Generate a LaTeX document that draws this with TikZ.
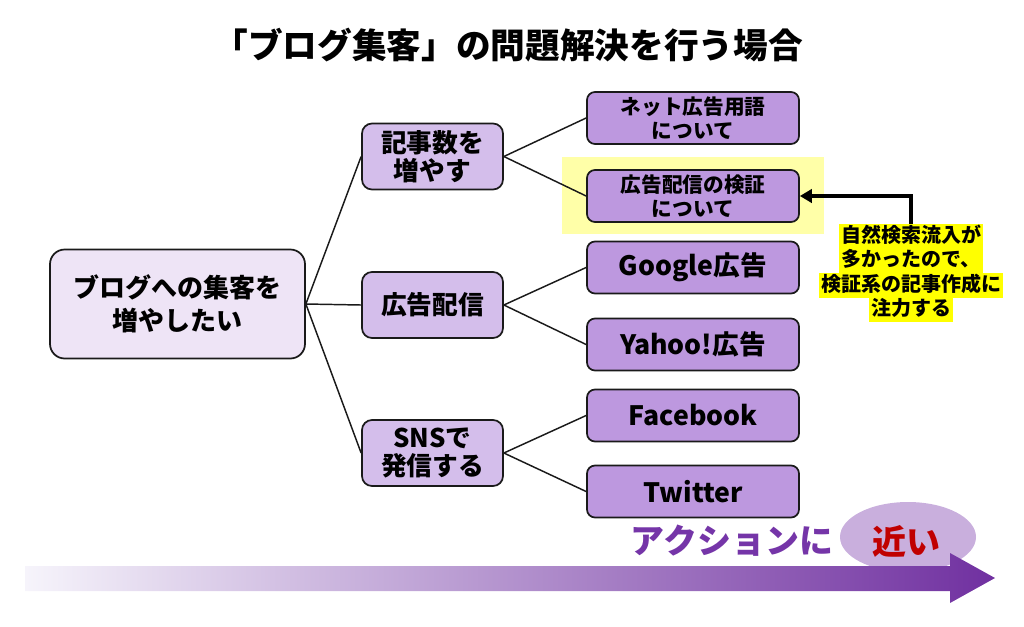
\documentclass[tikz,border=0pt]{standalone}
\usepackage{fontspec}
\setmainfont{Noto Sans CJK JP}
\usetikzlibrary{arrows.meta,shapes.geometric}
\definecolor{rootfill}{HTML}{EEE4F6}
\definecolor{midfill}{HTML}{D4BEEB}
\definecolor{leaffill}{HTML}{BD98DF}
\definecolor{hilite}{HTML}{FFFFA8}
\definecolor{annyellow}{HTML}{FFFF00}
\definecolor{ellfill}{HTML}{C9AFDD}
\definecolor{actpurple}{HTML}{7535A8}
\definecolor{nearred}{HTML}{C00000}
\definecolor{arrowleft}{HTML}{F6F4FB}
\definecolor{arrowright}{HTML}{7030A0}
\definecolor{edge}{HTML}{1A1A1A}
\tikzset{
  rootbox/.style={draw=edge, line width=1.3pt, fill=rootfill, rounded corners=11pt,
    minimum width=191.25pt, minimum height=81.75pt, align=center,
    font=\bfseries\fontsize{19.5}{25}\selectfont},
  midbox/.style={draw=edge, line width=1.3pt, fill=midfill, rounded corners=7.5pt,
    minimum width=105.75pt, minimum height=49.5pt, align=center, inner sep=1pt,
    font=\bfseries\fontsize{19.3}{21}\selectfont},
  leafbox/.style={draw=edge, line width=1.3pt, fill=leaffill, rounded corners=6pt,
    minimum width=159pt, minimum height=39pt, align=center, inner sep=1pt,
    font=\bfseries\fontsize{20}{22}\selectfont},
  leafsmall/.style={leafbox, font=\bfseries\fontsize{15.5}{18}\selectfont},
  conn/.style={draw=edge, line width=1.1pt},
  annline/.style={fill=annyellow, inner xsep=1.5pt, inner ysep=0pt,
    text height=13.5pt, text depth=4.9pt,
    font=\bfseries\fontsize{15}{18}\selectfont}
}
\begin{document}
\begin{tikzpicture}[x=0.75pt,y=-0.75pt]
\useasboundingbox (0,0) rectangle (1024,626);
% title
\node (title) at (508,45) {\bfseries\fontsize{26}{28}\selectfont 「ブログ集客」の問題解決を行う場合};
% highlight behind leaf 2
\fill[hilite] (562,157) rectangle (824,234);
% nodes
\node[rootbox] (root) at (177.5,304) {ブログへの集客を\\増やしたい};
\node[midbox] (m1) at (432.5,156.5) {記事数を\\増やす};
\node[midbox] (m2) at (432.5,305) {広告配信};
\node[midbox] (m3) at (432.5,453) {SNSで\\発信する};
\node[leafsmall] (l1) at (693,118) {ネット広告用語\\について};
\node[leafsmall] (l2) at (693,196) {広告配信の検証\\について};
\node[leafbox] (l3) at (693,267.5) {Google広告};
\node[leafbox] (l4) at (693,344.5) {Yahoo!広告};
\node[leafbox] (l5) at (693,415.5) {Facebook};
\node[leafbox] (l6) at (693,491.5) {Twitter};
% connectors
\draw[conn] (root.east) -- (m1.west);
\draw[conn] (root.east) -- (m2.west);
\draw[conn] (root.east) -- (m3.west);
\draw[conn] (m1.east) -- (l1.west);
\draw[conn] (m1.east) -- (l2.west);
\draw[conn] (m2.east) -- (l3.west);
\draw[conn] (m2.east) -- (l4.west);
\draw[conn] (m3.east) -- (l5.west);
\draw[conn] (m3.east) -- (l6.west);
% annotation
\node[annline] (a1) at (911,236.5) {自然検索流入が};
\node[annline] (a2) at (911,261) {多かったので、};
\node[annline] (a3) at (911,285.5) {検証系の記事作成に};
\node[annline] (a4) at (911,310) {注力する};
\draw[line width=2.6pt, -{Triangle[length=9pt,width=10pt]}] (a1.north) |- (l2.east);
% bottom
\node[ellipse, fill=ellfill, minimum width=102pt, minimum height=52.5pt] (ell) at (908,537) {};
\shade[left color=arrowleft, right color=arrowright]
  (25,566) -- (950,566) -- (950,553) -- (995,578) -- (950,603) -- (950,591) -- (25,591) -- cycle;
\node[text=actpurple, anchor=east] (act) at (838,541) {\bfseries\fontsize{25.5}{28}\selectfont アクションに};
\node[text=nearred] (near) at (906,541) {\bfseries\fontsize{25.5}{28}\selectfont 近い};
\end{tikzpicture}
\end{document}
